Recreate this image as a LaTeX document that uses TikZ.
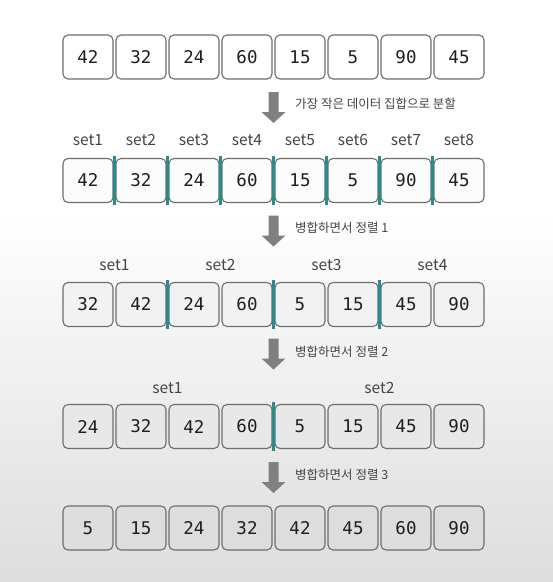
\documentclass[tikz,border=0pt]{standalone}
\usepackage{fontspec}
\usetikzlibrary{calc}
\newfontfamily\krfont{Noto Sans CJK KR}
\newfontfamily\monofont{DejaVu Sans Mono}
\definecolor{bgbottom}{HTML}{C6C6C6}
\definecolor{bgmid}{HTML}{DADADA}
\definecolor{cellborder}{HTML}{6E6E6E}
\definecolor{numcol}{HTML}{1E1E1E}
\definecolor{labcol}{HTML}{444444}
\definecolor{sepcol}{HTML}{2A8A8C}
\definecolor{arrowgray}{HTML}{808080}
\definecolor{fillA}{HTML}{FFFFFF}
\definecolor{fillB}{HTML}{FCFCFC}
\definecolor{fillC}{HTML}{F2F2F2}
\definecolor{fillD}{HTML}{E8E8E8}
\definecolor{fillE}{HTML}{DDDDDD}
\pgfdeclareverticalshading{bgshade}{100bp}{color(0bp)=(bgbottom); color(22bp)=(bgmid); color(57bp)=(white); color(100bp)=(white)}
\tikzset{
  cell/.style={draw=cellborder, rounded corners=5pt, minimum width=50pt, minimum height=44pt,
    line width=1.1pt, inner sep=0pt, text=numcol, font=\monofont\fontsize{17.5}{17.5}\selectfont},
  setlab/.style={text=labcol, inner sep=0pt, font=\krfont\fontsize{15.5}{16}\selectfont},
  steplab/.style={text=labcol, inner sep=0pt, anchor=west, font=\krfont\fontsize{12.5}{13}\selectfont},
  sepline/.style={draw=sepcol, line width=2.3pt},
  blockarrow/.style={fill=arrowgray, draw=none}
}
\newcommand{\blockarr}[1]{%
  \fill[blockarrow] ($(#1)+(-5,0)$) -- ($(#1)+(5,0)$) -- ($(#1)+(5,20)$) -- ($(#1)+(12,20)$)
    -- ($(#1)+(0,31)$) -- ($(#1)+(-12,20)$) -- ($(#1)+(-5,20)$) -- cycle;}
\begin{document}
\begin{tikzpicture}[x=1pt,y=-1pt]
\useasboundingbox (0,0) rectangle (553,582);
\shade[shading=bgshade] (0,0) rectangle (553,582);

% rows
\foreach \v [count=\i from 0] in {42,32,24,60,15,5,90,45}
  \node[cell, fill=fillA] (ra\i) at (88+53*\i,57) {\v};
\foreach \v [count=\i from 0] in {42,32,24,60,15,5,90,45}
  \node[cell, fill=fillB] (rb\i) at (88+53*\i,180.5) {\v};
\foreach \v [count=\i from 0] in {32,42,24,60,5,15,45,90}
  \node[cell, fill=fillC] (rc\i) at (88+53*\i,304.5) {\v};
\foreach \v [count=\i from 0] in {24,32,42,60,5,15,45,90}
  \node[cell, fill=fillD] (rd\i) at (88+53*\i,426.5) {\v};
\foreach \v [count=\i from 0] in {5,15,24,32,42,45,60,90}
  \node[cell, fill=fillE] (re\i) at (88+53*\i,528) {\v};

% set labels row b
\foreach \i [evaluate=\i as \k using int(\i+1)] in {0,...,7}
  \node[setlab] (lb\i) at (88+53*\i,140) {set\k};
% row c
\foreach \i [evaluate=\i as \k using int(\i+1)] in {0,...,3}
  \node[setlab] (lc\i) at (114.5+106*\i,265) {set\k};
% row d
\node[setlab] (ld0) at (167.5,388) {set1};
\node[setlab] (ld1) at (379.5,388) {set2};

% separators
\foreach \i [evaluate=\i as \j using int(\i+1)] in {0,...,6}
  \draw[sepline] ($(rb\i.north east)!0.5!(rb\j.north west)+(0,-2)$) -- ($(rb\i.south east)!0.5!(rb\j.south west)+(0,2)$);
\foreach \i [evaluate=\i as \j using int(\i+1)] in {1,3,5}
  \draw[sepline] ($(rc\i.north east)!0.5!(rc\j.north west)+(0,-2)$) -- ($(rc\i.south east)!0.5!(rc\j.south west)+(0,2)$);
\draw[sepline] ($(rd3.north east)!0.5!(rd4.north west)+(0,-2)$) -- ($(rd3.south east)!0.5!(rd4.south west)+(0,2)$);

% arrows
\coordinate (a1) at (273.5,92);
\coordinate (a2) at (273.5,215.5);
\coordinate (a3) at (273.5,338.5);
\coordinate (a4) at (273.5,462);
\blockarr{a1}\blockarr{a2}\blockarr{a3}\blockarr{a4}
\node[steplab] (t1) at (295,104) {가장 작은 데이터 집합으로 분할};
\node[steplab] (t2) at (295,228) {병합하면서 정렬 1};
\node[steplab] (t3) at (295,352) {병합하면서 정렬 2};
\node[steplab] (t4) at (295,475) {병합하면서 정렬 3};
\end{tikzpicture}
\end{document}
